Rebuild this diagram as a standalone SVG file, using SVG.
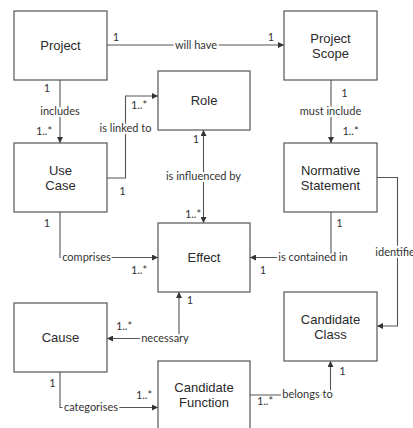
<svg xmlns="http://www.w3.org/2000/svg" width="413" height="428" viewBox="0 0 413 428">
<style>
.box{fill:#fff;stroke:#555;stroke-width:1.2}
.nt{font-family:"Liberation Sans",Arial,sans-serif;font-size:13px;fill:#2a2a2a;text-anchor:middle}
.c{fill:none;stroke:#555;stroke-width:1.1}
.lb{font-family:Lato,"Open Sans",sans-serif;font-size:11px;fill:#333;text-anchor:middle;stroke:#fff;stroke-width:4;stroke-linejoin:round;paint-order:stroke}
.m{font-family:Lato,"Open Sans",sans-serif;font-size:11px;fill:#333;text-anchor:middle}
</style>
<defs>
<marker id="ah" viewBox="0 0 6 6" refX="6" refY="3" markerWidth="6" markerHeight="6" markerUnits="userSpaceOnUse" orient="auto-start-reverse">
<path d="M0,0 L6,3 L0,6 z" fill="#333"/>
</marker>
</defs>
<rect width="413" height="428" fill="#fff"/>
<g id="connectors">
<path class="c" d="M107,45 H284" marker-end="url(#ah)"/>
<path class="c" d="M60,80 V143" marker-end="url(#ah)"/>
<path class="c" d="M107,178 H125.5 V96 H158" marker-end="url(#ah)"/>
<path class="c" d="M203.5,130 V223" marker-start="url(#ah)" marker-end="url(#ah)"/>
<path class="c" d="M60,212 V257.5 H158" marker-end="url(#ah)"/>
<path class="c" d="M331,80 V143" marker-end="url(#ah)"/>
<path class="c" d="M331,212 V257.5 H250" marker-end="url(#ah)"/>
<path class="c" d="M377,177.5 H397.5 V326 H377" marker-end="url(#ah)"/>
<path class="c" d="M179,292 V338.5 H107" marker-start="url(#ah)" marker-end="url(#ah)"/>
<path class="c" d="M60,372 V407.5 H158" marker-end="url(#ah)"/>
<path class="c" d="M250,395 H330.5 V361" marker-end="url(#ah)"/>
<text class="lb" x="196" y="49">will have</text>
<text class="m" x="116" y="41">1</text>
<text class="m" x="271" y="41">1</text>
<text class="m" x="47" y="92">1</text>
<text class="lb" x="60" y="114.5">includes</text>
<text class="m" x="44" y="135">1..*</text>
<text class="m" x="139" y="109">1..*</text>
<text class="lb" x="125.5" y="132">is linked to</text>
<text class="m" x="122.5" y="195">1</text>
<text class="m" x="196" y="142.5">1</text>
<text class="lb" x="203.5" y="179.5">is influenced by</text>
<text class="m" x="193" y="217.5">1..*</text>
<text class="m" x="47" y="226.5">1</text>
<text class="lb" x="86.5" y="260.5">comprises</text>
<text class="m" x="139" y="273.5">1..*</text>
<text class="m" x="344.5" y="97">1</text>
<text class="lb" x="330.5" y="114.5">must include</text>
<text class="m" x="350.5" y="135">1..*</text>
<text class="m" x="339.5" y="226.5">1</text>
<text class="lb" x="313" y="260.5">is contained in</text>
<text class="m" x="263" y="273.5">1</text>
<text class="lb" x="397.5" y="256">identifies</text>
<text class="m" x="190" y="303.5">1</text>
<text class="m" x="124" y="329.5">1..*</text>
<text class="lb" x="165" y="341.5">necessary</text>
<text class="m" x="52.5" y="386.5">1</text>
<text class="lb" x="91" y="410.5">categorises</text>
<text class="m" x="144" y="398.5">1..*</text>
<text class="m" x="265" y="405">1..*</text>
<text class="lb" x="307.5" y="397.5">belongs to</text>
<text class="m" x="342.5" y="375">1</text>
</g>
<g id="project"><rect class="box" x="14" y="11" width="93" height="69"/><text class="nt" x="60.5" y="50">Project</text></g>
<g id="project-scope"><rect class="box" x="284" y="11" width="93" height="69"/><text class="nt" x="330.5" y="42.5">Project</text><text class="nt" x="330.5" y="57.5">Scope</text></g>
<g id="role"><rect class="box" x="158" y="71" width="92" height="59"/><text class="nt" x="204" y="105">Role</text></g>
<g id="use-case"><rect class="box" x="14" y="143" width="93" height="69"/><text class="nt" x="60.5" y="174.5">Use</text><text class="nt" x="60.5" y="189.5">Case</text></g>
<g id="normative-statement"><rect class="box" x="284" y="143" width="93" height="69"/><text class="nt" x="330.5" y="174.5">Normative</text><text class="nt" x="330.5" y="189.5">Statement</text></g>
<g id="effect"><rect class="box" x="158" y="223" width="92" height="69"/><text class="nt" x="204" y="262">Effect</text></g>
<g id="cause"><rect class="box" x="14" y="303" width="93" height="69"/><text class="nt" x="60.5" y="342">Cause</text></g>
<g id="candidate-class"><rect class="box" x="284" y="292" width="93" height="69"/><text class="nt" x="330.5" y="323.5">Candidate</text><text class="nt" x="330.5" y="338.5">Class</text></g>
<g id="candidate-function"><rect class="box" x="158" y="361" width="92" height="70"/><text class="nt" x="204" y="391.5">Candidate</text><text class="nt" x="204" y="406.5">Function</text></g>
</svg>
